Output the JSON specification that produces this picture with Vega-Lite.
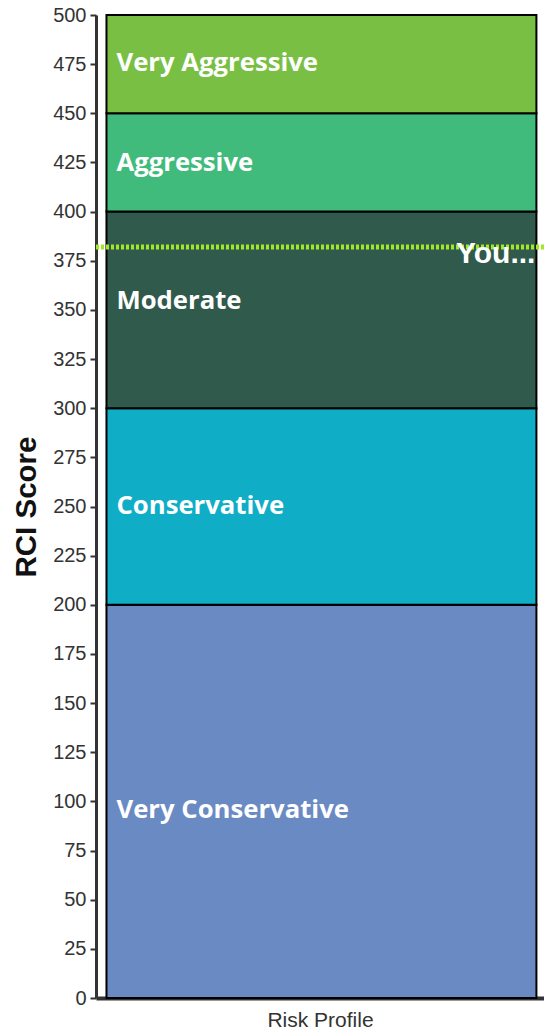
{
  "$schema": "https://vega.github.io/schema/vega-lite/v6.json",
  "width": 448,
  "height": 983,
  "autosize": {"type": "none"},
  "padding": {"left": 96, "top": 15, "right": 0, "bottom": 33},
  "background": "white",
  "config": {
    "view": {"stroke": null},
    "axisX": {
      "ticks": false,
      "labels": false,
      "grid": false,
      "domainColor": "#333333",
      "domainWidth": 4,
      "titleFont": "Liberation Sans",
      "titleFontSize": 21,
      "titleFontWeight": "normal",
      "titleColor": "#333333",
      "titlePadding": 11
    },
    "axisY": {
      "grid": false,
      "domainColor": "#333333",
      "domainWidth": 3,
      "tickColor": "#333333",
      "tickWidth": 2,
      "tickSize": 6,
      "labelFont": "Liberation Sans",
      "labelFontSize": 20,
      "labelColor": "#333333",
      "labelPadding": 4,
      "titleFont": "Liberation Sans",
      "titleFontSize": 29.5,
      "titleFontWeight": "bold",
      "titleColor": "#111111",
      "titlePadding": 11
    }
  },
  "datasets": {
    "bands": [
      {"profile": "Risk Profile", "category": "Very Conservative", "low": 0, "high": 200, "labelAt": 96},
      {"profile": "Risk Profile", "category": "Conservative", "low": 200, "high": 300, "labelAt": 251},
      {"profile": "Risk Profile", "category": "Moderate", "low": 300, "high": 400, "labelAt": 355},
      {"profile": "Risk Profile", "category": "Aggressive", "low": 400, "high": 450, "labelAt": 425},
      {"profile": "Risk Profile", "category": "Very Aggressive", "low": 450, "high": 500, "labelAt": 476}
    ],
    "you": [
      {"profile": "Risk Profile", "label": "You...", "score": 382}
    ]
  },
  "layer": [
    {
      "data": {"name": "bands"},
      "mark": {"type": "bar", "stroke": "#000000", "strokeWidth": 2},
      "encoding": {
        "x": {
          "field": "profile",
          "type": "nominal",
          "title": "Risk Profile",
          "scale": {"paddingInner": 0, "paddingOuter": 0.021, "align": 0.58}
        },
        "y": {
          "field": "low",
          "type": "quantitative",
          "title": "RCI Score",
          "scale": {"domain": [0, 500], "nice": false},
          "axis": {
            "values": [0, 25, 50, 75, 100, 125, 150, 175, 200, 225, 250, 275, 300, 325, 350, 375, 400, 425, 450, 475, 500]
          }
        },
        "y2": {"field": "high"},
        "color": {
          "field": "category",
          "type": "nominal",
          "scale": {
            "domain": ["Very Conservative", "Conservative", "Moderate", "Aggressive", "Very Aggressive"],
            "range": ["#6a8ac4", "#10adc7", "#2f5a4c", "#41bb7c", "#78bf44"]
          },
          "legend": null
        }
      }
    },
    {
      "data": {"name": "bands"},
      "mark": {"type": "text", "align": "left", "baseline": "middle", "dx": 10, "dy": 1, "font": "Open Sans", "fontWeight": "bold", "fontSize": 25.7, "fill": "#ffffff"},
      "encoding": {
        "x": {"field": "profile", "type": "nominal", "bandPosition": 0, "title": "Risk Profile"},
        "y": {"field": "labelAt", "type": "quantitative", "title": "RCI Score"},
        "text": {"field": "category"}
      }
    },
    {
      "data": {"name": "you"},
      "mark": {"type": "rule", "stroke": "#a2e826", "strokeWidth": 5, "strokeDash": [3, 2]},
      "encoding": {
        "y": {"field": "score", "type": "quantitative", "title": "RCI Score"}
      }
    },
    {
      "data": {"name": "you"},
      "mark": {"type": "text", "align": "right", "baseline": "alphabetic", "dx": -1, "dy": 16, "font": "Liberation Sans", "fontWeight": "bold", "fontSize": 30, "fill": "#ffffff"},
      "encoding": {
        "x": {"field": "profile", "type": "nominal", "bandPosition": 1, "title": "Risk Profile"},
        "y": {"field": "score", "type": "quantitative", "title": "RCI Score"},
        "text": {"field": "label"}
      }
    }
  ]
}
